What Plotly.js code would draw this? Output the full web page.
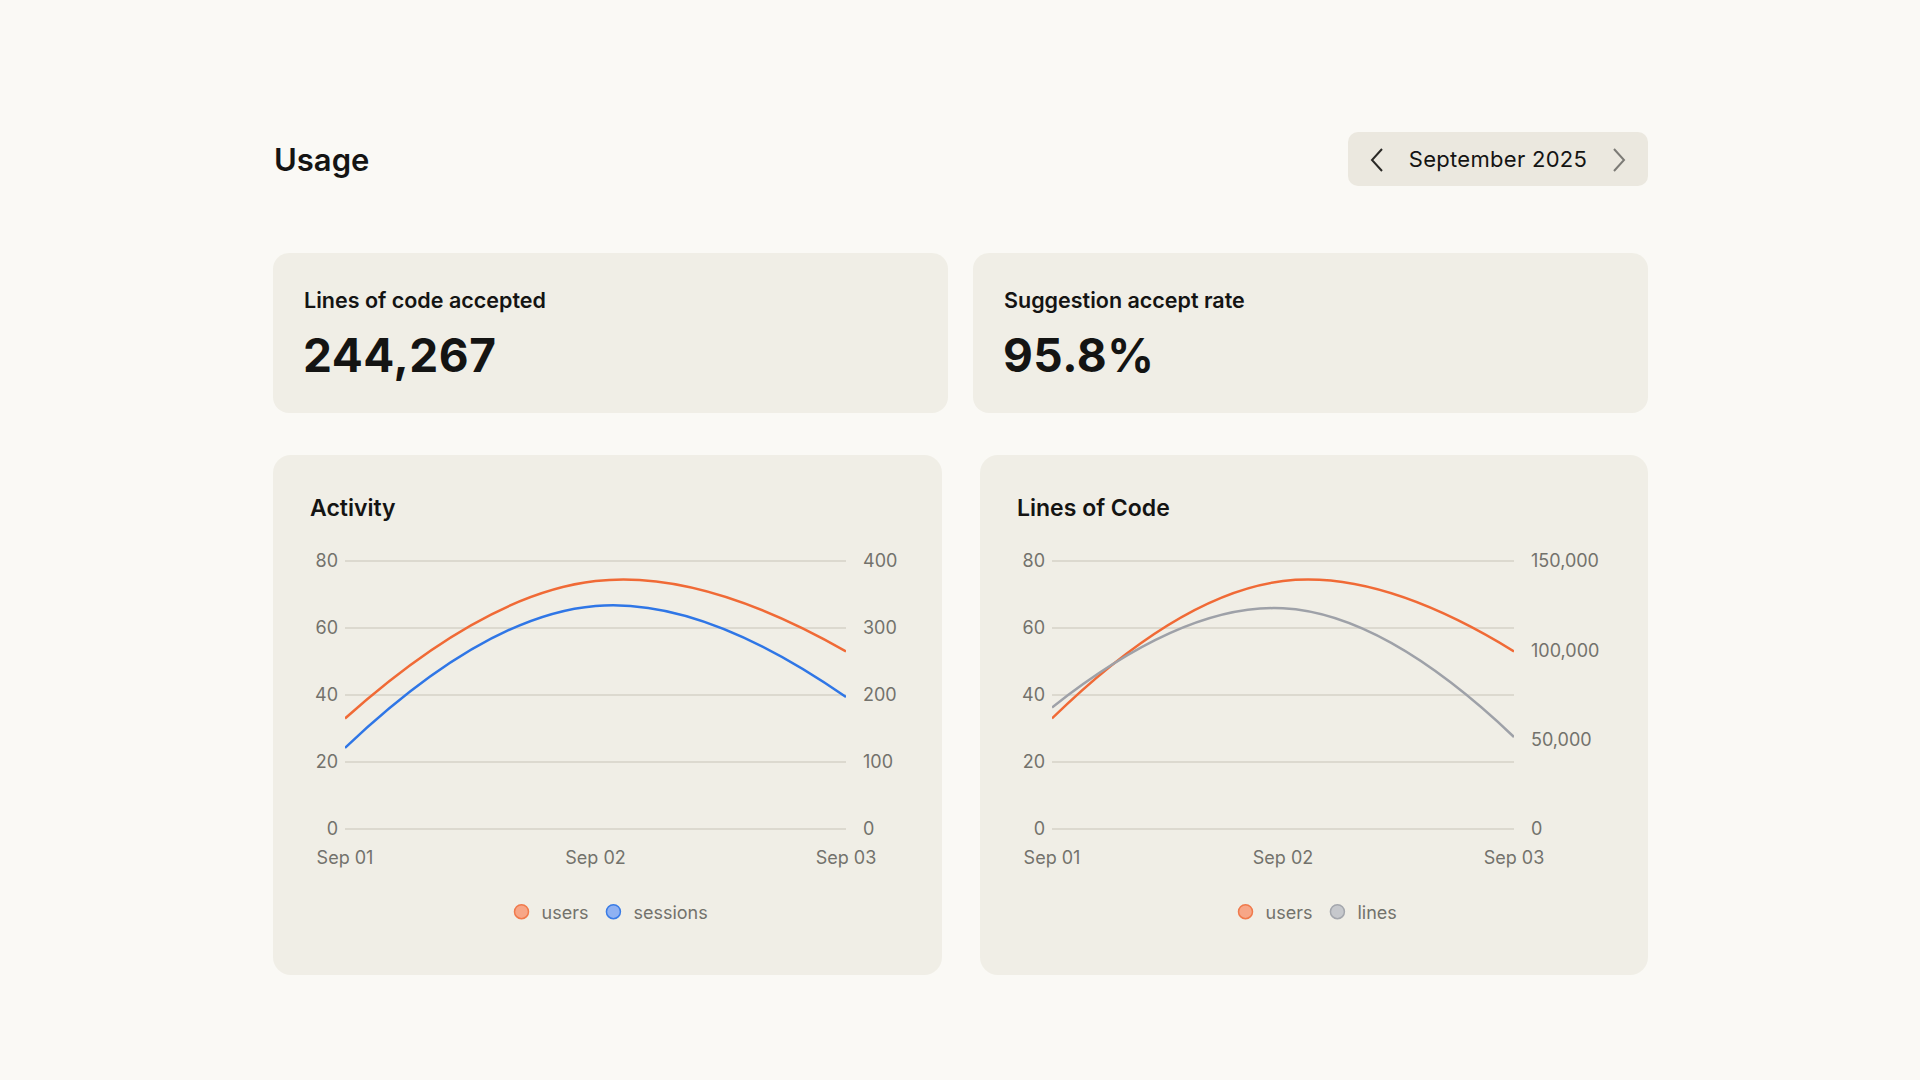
<!DOCTYPE html>
<html>
<head>
<meta charset="utf-8">
<script src="https://cdn.plot.ly/plotly-3.0.1.min.js"></script>
<style>
  body {
    margin: 0;
    width: 1920px;
    height: 1080px;
    background: #faf9f5;
    font-family: Inter, "Noto Sans", sans-serif;
    color: #141413;
    position: relative;
    overflow: hidden;
  }
  .abs { position: absolute; }
  .title {
    left: 274px; top: 141px;
    font-size: 31px; font-weight: 600; line-height: 38px;
  }
  .picker {
    left: 1348px; top: 132px; width: 300px; height: 54px;
    background: #ebe8df; border-radius: 10px;
  }
  .picker .label {
    position: absolute; left: 0; right: 0; top: 0; line-height: 54px;
    text-align: center; font-size: 22px; letter-spacing: 0.3px;
  }
  .picker svg { position: absolute; top: 15px; }
  .card {
    background: #f0eee6; border-radius: 16px;
  }
  .stat { top: 253px; width: 675px; height: 160px; }
  .stat .name {
    position: absolute; left: 31px; top: 33px;
    font-size: 21.5px; font-weight: 600; line-height: 28px;
  }
  .stat .value {
    position: absolute; left: 30px; top: 73px;
    font-size: 46px; font-weight: 700; line-height: 58px; letter-spacing: 0.5px;
  }
  .chart { top: 455px; height: 520px; border-radius: 18px; }
</style>
</head>
<body>

<div class="abs title">Usage</div>

<div class="abs picker">
  <svg style="left:20px" width="18" height="26" viewBox="0 0 18 26">
    <polyline points="14,2 4,13 14,24" fill="none" stroke="#2b2a27" stroke-width="2"/>
  </svg>
  <div class="label">September 2025</div>
  <svg style="left:262px" width="18" height="26" viewBox="0 0 18 26">
    <polyline points="4,2 14,13 4,24" fill="none" stroke="#7c7b76" stroke-width="2"/>
  </svg>
</div>

<div class="abs card stat" style="left:273px">
  <div class="name">Lines of code accepted</div>
  <div class="value">244,267</div>
</div>
<div class="abs card stat" style="left:973px">
  <div class="name">Suggestion accept rate</div>
  <div class="value">95.8%</div>
</div>

<div id="activity" class="abs card chart" style="left:273px; width:669px"></div>
<div id="loc" class="abs card chart" style="left:980px; width:668px"></div>

<script>
// values
var days = ['Sep 01', 'Sep 02', 'Sep 03'];
var users = [33, 74, 53];
var sessions = [121, 333, 197];
var lines = [68000, 123500, 51500];
var leftTicks = [0, 20, 40, 60, 80];

var tickColor = '#73726c';
var gridColor = '#dcd9cf';
var orange = '#f06a36';
var blue = '#2f76e6';
var gray = '#9ea1a8';

// plotly drops gridlines within 1px of the plot edge, so the plot area
// is grown by a couple of pixels each way and the range padded to match
var plotH = 268;
var padPx = 2;
var pad = padPx * 80 / plotH;

function legendDot(name, fill, border) {
  return {
    x: [null], y: [null],
    type: 'scatter', mode: 'markers', name: name,
    marker: { size: 14, color: fill, line: { color: border, width: 1.5 } },
    hoverinfo: 'skip'
  };
}

function lineTrace(y, color, axis) {
  return {
    x: days, y: y,
    type: 'scatter', mode: 'lines', yaxis: axis,
    line: { color: color, width: 2.5, shape: 'spline', smoothing: 1.3 },
    showlegend: false, hoverinfo: 'skip'
  };
}

function makeLayout(title, width, marginRight, rightMax, rightDtick) {
  var k = rightMax / 80;
  return {
    width: width, height: 520,
    margin: { l: 72, r: marginRight, t: 106 - padPx, b: 146 - padPx },
    paper_bgcolor: 'rgba(0,0,0,0)',
    plot_bgcolor: 'rgba(0,0,0,0)',
    font: { family: 'Inter, "Noto Sans", sans-serif', size: 18, color: tickColor },
    title: {
      text: title,
      font: { size: 23, weight: 600, color: '#141413' },
      xref: 'container', x: 37 / width, xanchor: 'left',
      yref: 'container', y: 1 - 53 / 520, yanchor: 'middle'
    },
    xaxis: {
      type: 'category', range: [0, 2],
      showgrid: false, zeroline: false, showline: false,
      ticks: '', ticklabelstandoff: 14,
      tickfont: { size: 18, color: tickColor }
    },
    yaxis: {
      range: [-pad, 80 + pad], tickvals: leftTicks,
      showgrid: true, gridcolor: gridColor, gridwidth: 1.2,
      zeroline: false, showline: false, ticks: '',
      ticklabelstandoff: 6,
      tickfont: { size: 18, color: tickColor }
    },
    yaxis2: {
      overlaying: 'y', side: 'right',
      range: [-pad * k, rightMax + pad * k], dtick: rightDtick, tick0: 0, tickformat: ',d',
      showgrid: false, zeroline: false, showline: false, ticks: '',
      ticklabelstandoff: 16,
      tickfont: { size: 18, color: tickColor }
    },
    legend: {
      orientation: 'h',
      xref: 'container', x: 0.5, xanchor: 'center',
      yref: 'container', y: 1 - 457 / 520, yanchor: 'middle',
      font: { size: 18, color: tickColor },
      itemwidth: 30
    }
  };
}

var config = { staticPlot: true, displayModeBar: false };

Plotly.newPlot('activity', [
  lineTrace(users, orange, 'y'),
  lineTrace(sessions, blue, 'y2'),
  legendDot('users', '#f7a687', '#f07a4c'),
  legendDot('sessions', '#8fb1f2', '#3a7ce6')
], makeLayout('Activity', 669, 96, 400, 100), config);

Plotly.newPlot('loc', [
  lineTrace(lines, gray, 'y2'),
  lineTrace(users, orange, 'y'),
  legendDot('users', '#f7a687', '#f07a4c'),
  legendDot('lines', '#c6c8cc', '#a4a7ad')
], makeLayout('Lines of Code', 668, 134, 150000, 50000), config);
</script>
</body>
</html>
